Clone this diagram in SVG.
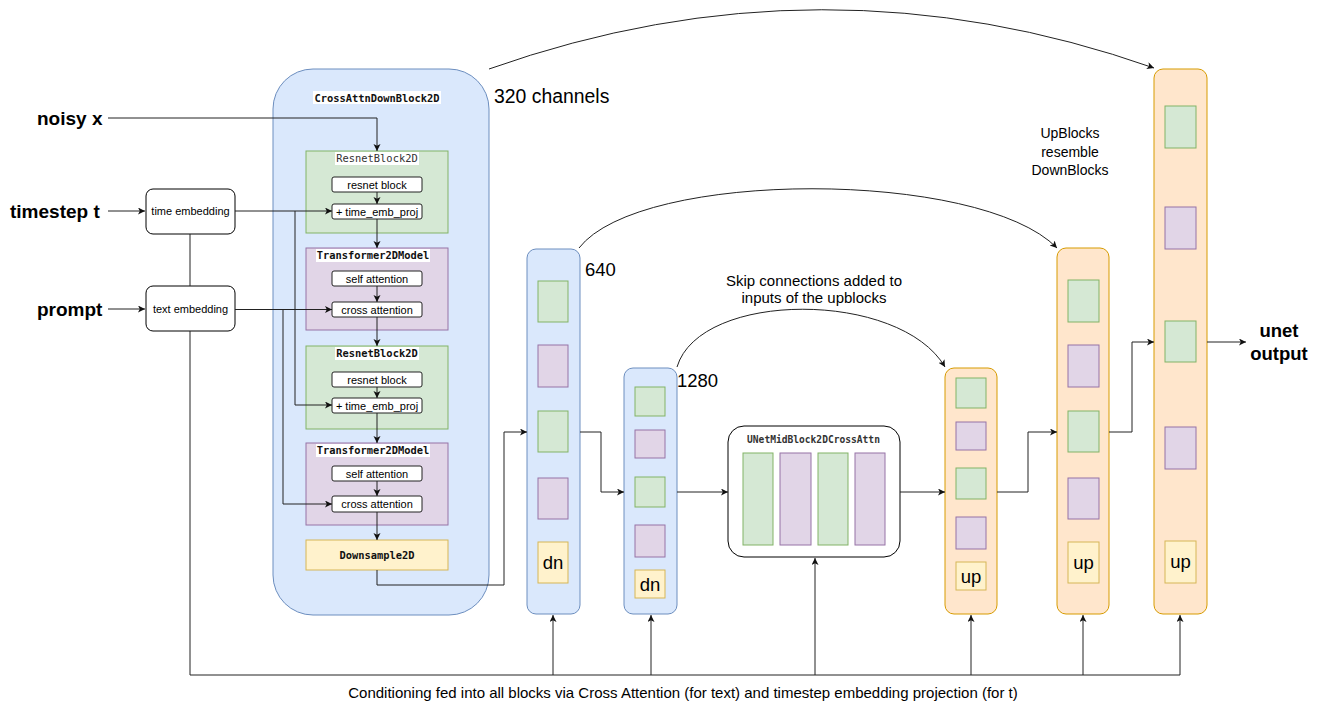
<svg xmlns="http://www.w3.org/2000/svg" width="1325" height="704" viewBox="0 0 1325 704">
  <defs>
    <marker id="arr" markerUnits="userSpaceOnUse" markerWidth="10" markerHeight="8" refX="7" refY="3.5" orient="auto">
      <path d="M0,0 L7,3.5 L0,7 L1.8,3.5 z" fill="#111"/>
    </marker>
    <style>
      .blue { fill: #dae8fc; stroke: #6c8ebf; stroke-width: 1; }
      .orange { fill: #ffe6cc; stroke: #d79b00; stroke-width: 1; }
      .green { fill: #d5e8d4; stroke: #82b366; stroke-width: 1; }
      .purple { fill: #e1d5e7; stroke: #9673a6; stroke-width: 1; }
      .yellow { fill: #fff2cc; stroke: #d6b656; stroke-width: 1; }
      .plain { fill: #ffffff; stroke: #000000; stroke-width: 1; }
      .op { fill: #ffffff; stroke: #222; stroke-width: 1; }
      .sans { font-family: "Liberation Sans", Arial, sans-serif; fill: #000; }
      .mono { font-family: "DejaVu Sans Mono", "Liberation Mono", monospace; font-weight: bold; fill: #111; font-size: 10.4px; }
      .lblbg { fill: #ffffff; }
      .big { font-size: 19px; font-weight: bold; }
      .mid { font-size: 18.5px; }
      .small { font-size: 11px; }
      .note { font-size: 14px; }
      .note15 { font-size: 15px; }
      .conn path { fill: none; stroke: #222; stroke-width: 1; }
      .conn path.a { marker-end: url(#arr); }
    </style>
  </defs>
  <rect width="1325" height="704" fill="#ffffff"/>

  <!-- input labels -->
  <g id="noisy-x"><text class="sans big" x="37" y="125">noisy x</text></g>
  <g id="timestep-t"><text class="sans big" x="10" y="218">timestep t</text></g>
  <g id="prompt"><text class="sans big" x="37" y="316">prompt</text></g>

  <!-- embedding boxes -->
  <g id="time-embedding">
    <rect class="plain" x="146" y="189" width="89" height="45" rx="7"/>
    <text class="sans small" x="190.5" y="215" text-anchor="middle">time embedding</text>
  </g>
  <g id="text-embedding">
    <rect class="plain" x="146" y="286" width="89" height="45" rx="7"/>
    <text class="sans small" x="190.5" y="312.5" text-anchor="middle">text embedding</text>
  </g>

  <!-- first down block (320 channels) with its internals -->
  <g id="cross-attn-down-block">
    <rect class="blue" x="273" y="69" width="216" height="546" rx="40"/>
    <rect class="lblbg" x="313" y="91" width="128" height="13"/>
    <text class="mono" x="377" y="101.5" text-anchor="middle">CrossAttnDownBlock2D</text>
  </g>
  <g id="label-320"><text class="sans" x="494" y="103" style="font-size:19.4px">320 channels</text></g>

  <g id="resnet-1">
    <rect class="green" x="306" y="151" width="142" height="82"/>
    <rect class="lblbg" x="335" y="152" width="84" height="13"/>
    <text class="mono" x="377" y="162" text-anchor="middle" style="font-weight:normal;fill:#333">ResnetBlock2D</text>
    <rect class="op" x="332" y="177" width="90" height="15" rx="2"/>
    <text class="sans small" x="377" y="188.5" text-anchor="middle">resnet block</text>
    <rect class="op" x="332" y="204" width="90" height="15" rx="2"/>
    <text class="sans small" x="377" y="215.5" text-anchor="middle">+ time_emb_proj</text>
  </g>
  <g id="transformer-1">
    <rect class="purple" x="306" y="248" width="142" height="82"/>
    <rect class="lblbg" x="316" y="249" width="114" height="13"/>
    <text class="mono" x="373" y="259" text-anchor="middle">Transformer2DModel</text>
    <rect class="op" x="332" y="271" width="90" height="15" rx="2"/>
    <text class="sans small" x="377" y="282.5" text-anchor="middle">self attention</text>
    <rect class="op" x="332" y="302" width="90" height="15" rx="2"/>
    <text class="sans small" x="377" y="313.5" text-anchor="middle">cross attention</text>
  </g>
  <g id="resnet-2">
    <rect class="green" x="306" y="346" width="142" height="83"/>
    <rect class="lblbg" x="335" y="347" width="84" height="13"/>
    <text class="mono" x="377" y="357" text-anchor="middle">ResnetBlock2D</text>
    <rect class="op" x="332" y="372" width="90" height="15" rx="2"/>
    <text class="sans small" x="377" y="383.5" text-anchor="middle">resnet block</text>
    <rect class="op" x="332" y="398" width="90" height="15" rx="2"/>
    <text class="sans small" x="377" y="409.5" text-anchor="middle">+ time_emb_proj</text>
  </g>
  <g id="transformer-2">
    <rect class="purple" x="306" y="443" width="142" height="82"/>
    <rect class="lblbg" x="316" y="444" width="114" height="13"/>
    <text class="mono" x="373" y="454" text-anchor="middle">Transformer2DModel</text>
    <rect class="op" x="332" y="466" width="90" height="15" rx="2"/>
    <text class="sans small" x="377" y="477.5" text-anchor="middle">self attention</text>
    <rect class="op" x="332" y="496" width="90" height="16" rx="2"/>
    <text class="sans small" x="377" y="508" text-anchor="middle">cross attention</text>
  </g>
  <g id="downsample">
    <rect class="yellow" x="306" y="540" width="142" height="30"/>
    <text class="mono" x="377" y="558.5" text-anchor="middle">Downsample2D</text>
  </g>

  <!-- 640 channel down block -->
  <g id="down-640">
    <rect class="blue" x="527" y="249" width="53" height="365" rx="9"/>
    <rect class="green" x="538" y="281" width="30" height="41"/>
    <rect class="purple" x="538" y="345" width="30" height="42"/>
    <rect class="green" x="538" y="411" width="30" height="41"/>
    <rect class="purple" x="538" y="478" width="30" height="41"/>
    <rect class="yellow" x="538" y="542" width="30" height="41"/>
    <text class="sans mid" x="553" y="569" text-anchor="middle">dn</text>
  </g>
  <g id="label-640"><text class="sans mid" x="585" y="276">640</text></g>

  <!-- 1280 channel down block -->
  <g id="down-1280">
    <rect class="blue" x="624" y="368" width="53" height="246" rx="9"/>
    <rect class="green" x="635" y="387" width="30" height="29"/>
    <rect class="purple" x="635" y="430" width="30" height="28"/>
    <rect class="green" x="635" y="477" width="30" height="30"/>
    <rect class="purple" x="635" y="525" width="30" height="32"/>
    <rect class="yellow" x="635" y="570" width="30" height="28"/>
    <text class="sans mid" x="650" y="590.5" text-anchor="middle">dn</text>
  </g>
  <g id="label-1280"><text class="sans mid" x="677" y="387">1280</text></g>

  <!-- middle block -->
  <g id="mid-block">
    <rect class="plain" x="728" y="426" width="172" height="131" rx="16"/>
    <rect class="lblbg" x="746" y="433" width="135" height="12"/>
    <text class="mono" x="813.5" y="442.5" text-anchor="middle" style="font-size:9.6px;fill:#333">UNetMidBlock2DCrossAttn</text>
    <rect class="green" x="743" y="453" width="30" height="92"/>
    <rect class="purple" x="780" y="453" width="31" height="92"/>
    <rect class="green" x="818" y="453" width="30" height="92"/>
    <rect class="purple" x="855" y="453" width="30" height="92"/>
  </g>

  <g id="skip-note">
    <text class="sans note15" x="814" y="286" text-anchor="middle">Skip connections added to</text>
    <text class="sans note15" x="814" y="303" text-anchor="middle">inputs of the upblocks</text>
  </g>

  <!-- up blocks -->
  <g id="up-1">
    <rect class="orange" x="945" y="368" width="52" height="246" rx="9"/>
    <rect class="green" x="956" y="378" width="30" height="30"/>
    <rect class="purple" x="956" y="422" width="30" height="28"/>
    <rect class="green" x="956" y="468" width="30" height="31"/>
    <rect class="purple" x="956" y="517" width="30" height="32"/>
    <rect class="yellow" x="956" y="562" width="30" height="28"/>
    <text class="sans mid" x="971" y="582.5" text-anchor="middle">up</text>
  </g>
  <g id="up-2">
    <rect class="orange" x="1057" y="248" width="52" height="366" rx="9"/>
    <rect class="green" x="1068" y="280" width="31" height="42"/>
    <rect class="purple" x="1068" y="345" width="31" height="42"/>
    <rect class="green" x="1068" y="411" width="31" height="41"/>
    <rect class="purple" x="1068" y="478" width="31" height="41"/>
    <rect class="yellow" x="1068" y="542" width="31" height="41"/>
    <text class="sans mid" x="1083.5" y="569" text-anchor="middle">up</text>
  </g>
  <g id="up-3">
    <rect class="orange" x="1154" y="69" width="53" height="545" rx="9"/>
    <rect class="green" x="1165" y="106" width="31" height="42"/>
    <rect class="purple" x="1165" y="207" width="31" height="42"/>
    <rect class="green" x="1165" y="321" width="31" height="41"/>
    <rect class="purple" x="1165" y="427" width="31" height="42"/>
    <rect class="yellow" x="1165" y="541" width="31" height="42"/>
    <text class="sans mid" x="1180.5" y="568" text-anchor="middle">up</text>
  </g>

  <g id="upblocks-note">
    <text class="sans note" x="1070" y="138" text-anchor="middle">UpBlocks</text>
    <text class="sans note" x="1070" y="157" text-anchor="middle">resemble</text>
    <text class="sans note" x="1070" y="175" text-anchor="middle">DownBlocks</text>
  </g>

  <g id="unet-output">
    <text class="sans" x="1279" y="337" text-anchor="middle" style="font-size:18.5px;font-weight:bold">unet</text>
    <text class="sans" x="1279" y="360" text-anchor="middle" style="font-size:18.5px;font-weight:bold">output</text>
  </g>

  <g id="conditioning-note">
    <text class="sans note15" x="683" y="698" text-anchor="middle">Conditioning fed into all blocks via Cross Attention (for text) and timestep embedding projection (for t)</text>
  </g>

  <!-- connectors -->
  <g id="connectors" class="conn">
    <path class="a" d="M108,118 H377 V151"/>
    <path class="a" d="M108,211 H145"/>
    <path class="a" d="M108,309 H145"/>
    <path class="a" d="M235,211 H332"/>
    <path class="a" d="M295,211 V405 H332"/>
    <path class="a" d="M235,309.5 H332"/>
    <path class="a" d="M283,309.5 V504 H332"/>
    <path d="M190,234 V286"/>
    <path d="M190,331 V675 H1180"/>
    <path class="a" d="M553,675 V615"/>
    <path class="a" d="M651,675 V615"/>
    <path class="a" d="M815,675 V558"/>
    <path class="a" d="M971,675 V615"/>
    <path class="a" d="M1083,675 V615"/>
    <path class="a" d="M1180,675 V615"/>

    <path class="a" d="M377,192 V204"/>
    <path class="a" d="M377,219 V248"/>
    <path class="a" d="M377,286 V302"/>
    <path class="a" d="M377,317 V346"/>
    <path class="a" d="M377,387 V398"/>
    <path class="a" d="M377,413 V443"/>
    <path class="a" d="M377,481 V496"/>
    <path class="a" d="M377,512 V540"/>

    <path class="a" d="M377,570 V585 H504 V432 H527"/>
    <path class="a" d="M580,432 H601 V492 H624"/>
    <path class="a" d="M677,492 H728"/>
    <path class="a" d="M900,492 H945"/>
    <path class="a" d="M997,492 H1028 V432 H1057"/>
    <path class="a" d="M1109,432 H1132 V342 H1154"/>
    <path class="a" d="M1207,342 H1246"/>

    <!-- skip connections -->
    <path class="a" d="M489,69 Q822,-49 1154,68"/>
    <path class="a" d="M579,248 C640,169 980,169 1057,248"/>
    <path class="a" d="M677,367 C700,290 900,290 945,367"/>
  </g>
</svg>
